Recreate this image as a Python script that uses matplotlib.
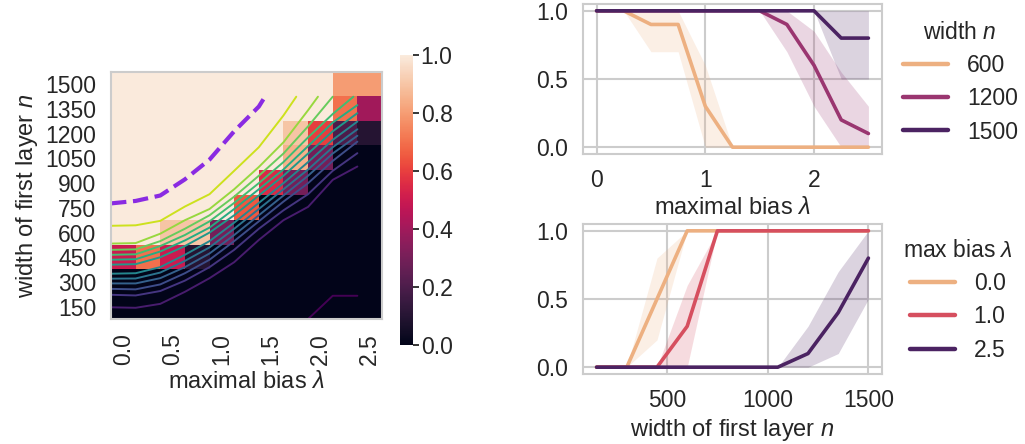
import matplotlib
matplotlib.use('Agg')
import matplotlib.pyplot as plt
import seaborn as sns
import numpy as np

sns.set_theme(context='talk', style='whitegrid')
plt.rcParams['font.family'] = ['Liberation Sans', 'DejaVu Sans']
plt.rcParams['mathtext.fontset'] = 'custom'
plt.rcParams['mathtext.rm'] = 'Liberation Sans'
plt.rcParams['mathtext.it'] = 'Liberation Sans:italic'
plt.rcParams['mathtext.bf'] = 'Liberation Sans:bold'

widths = [150, 300, 450, 600, 750, 900, 1050, 1200, 1350, 1500]
biases = [0.0, 0.25, 0.5, 0.75, 1.0, 1.25, 1.5, 1.75, 2.0, 2.25, 2.5]

# success rate: one row per width (150 first), one column per bias
success = [
    [0, 0, 0, 0, 0, 0, 0, 0, 0, 0, 0],
    [0, 0, 0, 0, 0, 0, 0, 0, 0, 0, 0],
    [0.5, 0.7, 0.5, 0.1, 0, 0, 0, 0, 0, 0, 0],
    [1, 1, 0.9, 0.9, 0.3, 0, 0, 0, 0, 0, 0],
    [1, 1, 1, 1, 1, 0.65, 0, 0, 0, 0, 0],
    [1, 1, 1, 1, 1, 1, 0.55, 0.3, 0, 0, 0],
    [1, 1, 1, 1, 1, 1, 1, 0.85, 0.3, 0, 0],
    [1, 1, 1, 1, 1, 1, 1, 0.9, 0.6, 0.2, 0.1],
    [1, 1, 1, 1, 1, 1, 1, 1, 1, 0.7, 0.4],
    [1, 1, 1, 1, 1, 1, 1, 1, 1, 0.8, 0.8],
]

# theoretical bound lines (n value reached at each bias), lowest level first
bound_levels = [
    [221, 218, 242, 315, 398, 495, 630, 750, 831, 995, 1076],
    [297, 293, 320, 383, 465, 570, 698, 810, 908, 1050, 1157],
    [333, 330, 360, 428, 510, 623, 743, 863, 975, 1110, 1227],
    [366, 366, 398, 465, 548, 660, 780, 900, 1020, 1155, 1263],
    [395, 396, 432, 503, 585, 698, 818, 938, 1058, 1193, 1302],
    [425, 428, 465, 540, 623, 735, 855, 975, 1103, 1238, 1349],
    [480, 483, 525, 593, 675, 780, 900, 1020, 1155, 1290, 1400],
    [510, 513, 560, 627, 705, 818, 938, 1058, 1200, 1343, 1449],
    [540, 543, 593, 660, 743, 855, 975, 1103, 1253, 1395],
    [570, 573, 623, 698, 780, 893, 1020, 1155, 1320],
    [608, 611, 668, 750, 818, 938, 1073, 1223, 1418],
    [716, 719, 746, 833, 908, 1050, 1193, 1386],
]
bound_exit = [None, None, None, None, None, None, None, None, 2.46, 2.25, 2.1, 1.88]
bound_low_lam = [2.0, 2.25, 2.5]
bound_low_n = [150, 291, 291]
dash_lam = [0.0, 0.25, 0.5, 0.75, 1.0, 1.25, 1.5, 1.5625]
dash_n = [852, 867, 900, 998, 1118, 1290, 1440, 1500]

# top right: selected widths
sel_widths = [600, 1200, 1500]
width_lo = [
    [1, 1, 0.7, 0.7, 0, 0, 0, 0, 0, 0, 0],
    [1, 1, 1, 1, 1, 1, 1, 0.7, 0.3, 0, 0],
    [1, 1, 1, 1, 1, 1, 1, 1, 1, 0.5, 0.5],
]
width_hi = [
    [1, 1, 1, 1, 0.6, 0, 0, 0, 0, 0, 0],
    [1, 1, 1, 1, 1, 1, 1, 1, 0.85, 0.55, 0.3],
    [1, 1, 1, 1, 1, 1, 1, 1, 1, 1, 1],
]

# bottom right: selected biases
sel_biases = [0.0, 1.0, 2.5]
bias_lo = [
    [0, 0, 0.2, 1, 1, 1, 1, 1, 1, 1],
    [0, 0, 0, 0, 1, 1, 1, 1, 1, 1],
    [0, 0, 0, 0, 0, 0, 0, 0, 0.1, 0.5],
]
bias_hi = [
    [0, 0, 0.8, 1, 1, 1, 1, 1, 1, 1],
    [0, 0, 0, 0.6, 1, 1, 1, 1, 1, 1],
    [0, 0, 0, 0, 0, 0, 0, 0.3, 0.7, 1.0],
]

grey = '#cccccc'
rocket = sns.color_palette('rocket', as_cmap=True)
flare = sns.color_palette('flare', as_cmap=True)
viridis = plt.get_cmap('viridis')

fig = plt.figure(figsize=(10.25, 4.44), dpi=100)
W, H = 1025.0, 444.0


def box(x0, y0, x1, y1):
    return [x0 / W, 1 - y1 / H, (x1 - x0) / W, (y1 - y0) / H]


# ---- heatmap
ax = fig.add_axes(box(111, 72, 382, 319))
mat = np.array(success)[::-1]
im = ax.imshow(mat, cmap=rocket, vmin=0, vmax=1, aspect='auto',
               extent=(0, len(biases), len(widths), 0), interpolation='nearest')


def to_xy(lam, n):
    return np.array(lam) / 0.25, 11 - np.array(n) / 150.0


nlev = len(bound_levels) + 1
for k, ns in enumerate(bound_levels):
    lam = list(biases[:len(ns)])
    ns = list(ns)
    if bound_exit[k] is not None:
        lam.append(bound_exit[k])
        ns.append(1500)
    x, y = to_xy(lam, ns)
    ax.plot(x, y, color=viridis((k + 1) / nlev), lw=1.4)
x, y = to_xy(bound_low_lam, bound_low_n)
ax.plot(x, y, color=viridis(0.0), lw=1.4)
x, y = to_xy(dash_lam, dash_n)
ax.plot(x, y, color='blueviolet', lw=3, ls='--')

ax.set_xlim(0, len(biases))
ax.set_ylim(len(widths), 0)
ax.grid(False)
ax.set_yticks(np.arange(len(widths)) + 0.5)
ax.set_yticklabels([str(w) for w in widths[::-1]])
ax.set_xticks(np.arange(0, len(biases), 2) + 0.5)
ax.set_xticklabels(['%.1f' % b for b in biases[::2]], rotation=90)
ax.tick_params(length=0, pad=10.5, labelsize=16.5)
ax.set_xlabel(r'maximal bias $\lambda$', fontsize=17)
ax.set_ylabel(r'width of first layer $n$', fontsize=17)
for s in ax.spines.values():
    s.set_color(grey)
    s.set_linewidth(1.5)

cax = fig.add_axes(box(400, 55, 413, 345))
cb = fig.colorbar(im, cax=cax)
cb.outline.set_visible(False)
cb.set_ticks([0, 0.2, 0.4, 0.6, 0.8, 1.0])
cax.tick_params(length=4, width=1.3, pad=1.5, labelsize=16.5, right=True, color='#262626')

# ---- top right
ax1 = fig.add_axes(box(583, 4, 882, 154))
for i, w in enumerate(sel_widths):
    c = flare((w - sel_widths[0]) / (sel_widths[-1] - sel_widths[0]))
    row = success[widths.index(w)]
    ax1.fill_between(biases, width_lo[i], width_hi[i], color=c, alpha=0.2, lw=0)
    ax1.plot(biases, row, color=c, lw=2.6, label=str(w))
ax1.set_xticks([0, 1, 2])
ax1.set_yticks([0.0, 0.5, 1.0])
ax1.set_xlabel(r'maximal bias $\lambda$', fontsize=17)
leg = ax1.legend(title=r'width $n$', frameon=False, loc='upper left',
                 bbox_to_anchor=(1.0, 1.027), fontsize=16.5, title_fontsize=16.5,
                 labelspacing=0.45)
for l in leg.get_lines():
    l.set_linewidth(3.2)

# ---- bottom right
ax2 = fig.add_axes(box(583, 224, 882, 374))
for i, b in enumerate(sel_biases):
    c = flare((b - sel_biases[0]) / (sel_biases[-1] - sel_biases[0]))
    col = [r[biases.index(b)] for r in success]
    ax2.fill_between(widths, bias_lo[i], bias_hi[i], color=c, alpha=0.2, lw=0)
    ax2.plot(widths, col, color=c, lw=2.6, label='%.1f' % b)
ax2.set_xticks([500, 1000, 1500])
ax2.set_yticks([0.0, 0.5, 1.0])
ax2.set_xlabel(r'width of first layer $n$', fontsize=17)
leg = ax2.legend(title=r'max bias $\lambda$', frameon=False, loc='upper left',
                 bbox_to_anchor=(1.0, 1.04), fontsize=16.5, title_fontsize=16.5,
                 labelspacing=0.45)
for l in leg.get_lines():
    l.set_linewidth(3.2)

for a in (ax1, ax2):
    a.tick_params(length=0, pad=10.5, labelsize=16.5)
    a.grid(True, color=grey, lw=1.5)
    for s in a.spines.values():
        s.set_color(grey)
        s.set_linewidth(1.5)

fig.savefig('out.png', dpi=100)
